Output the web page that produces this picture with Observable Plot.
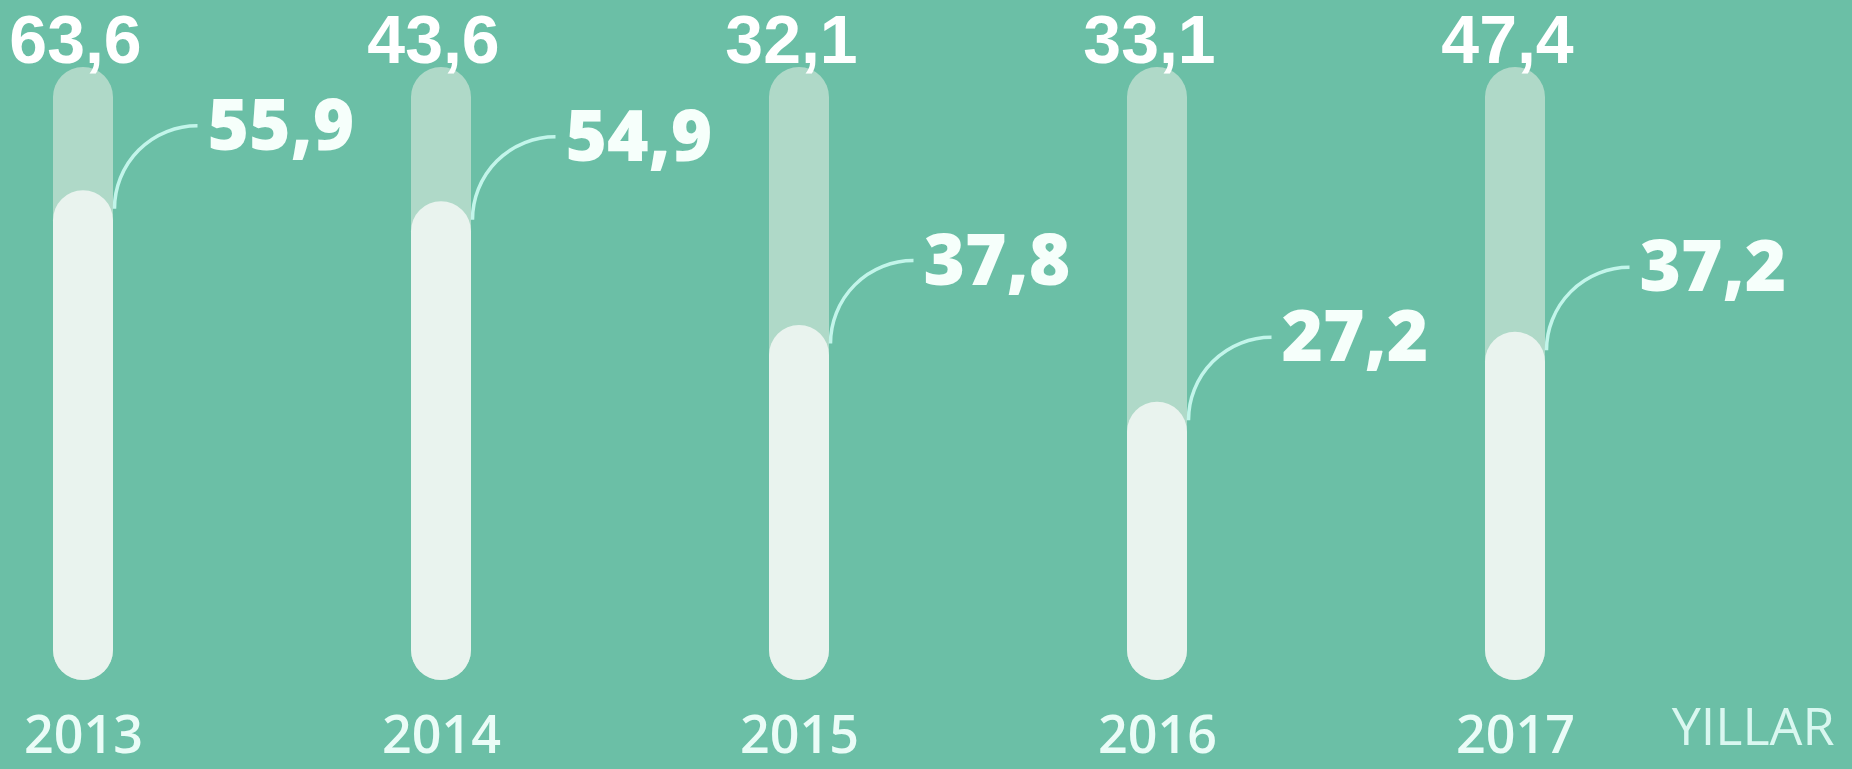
<!DOCTYPE html>
<html>
<head>
<meta charset="utf-8">
<script src="https://cdn.jsdelivr.net/npm/d3@7"></script>
<script src="https://cdn.jsdelivr.net/npm/@observablehq/plot@0.6"></script>
<style>
  html, body { margin: 0; padding: 0; background: #6bbfa6; overflow: hidden; }
  #chart svg { display: block; }
</style>
</head>
<body>
<div id="chart"></div>
<script>
// ---- data ----
const years = ["2013", "2014", "2015", "2016", "2017"];
const topLabels = ["63,6", "43,6", "32,1", "33,1", "47,4"];
const innerValues = [55.9, 54.9, 37.8, 27.2, 37.2];
const innerLabels = ["55,9", "54,9", "37,8", "27,2", "37,2"];
// fill level of each tube, in percent of the tube height, as drawn in the picture
const fillLevels = [79.9, 78.1, 57.9, 45.4, 56.8];
const tubeCapacity = [100, 100, 100, 100, 100];
const axisTitle = "YILLAR";

const rows = years.map((y, i) => ({
  year: y,
  top: topLabels[i],
  value: innerValues[i],
  label: innerLabels[i],
  fill: fillLevels[i],
  cap: tubeCapacity[i]
}));

// leader-line glyph: quarter arc from the tube's right edge up to the label
const leader = {
  draw(ctx) {
    ctx.moveTo(31, 18);
    ctx.arc(114, 18, 83, Math.PI, 1.5 * Math.PI);
  }
};

const chart = Plot.plot({
  width: 1852,
  height: 769,
  marginTop: 67,
  marginBottom: 89,
  marginLeft: 52,
  marginRight: 306,
  style: {
    background: "#6bbfa6",
    color: "#eafcf7",
    fontFamily: "'Open Sans', 'Noto Sans', sans-serif",
    fontSize: "52px",
    fontWeight: 600
  },
  x: {
    type: "band",
    domain: years,
    paddingInner: 0.8326,
    paddingOuter: 0,
    tickSize: 0,
    tickPadding: 36,
    label: null
  },
  y: { domain: [0, 100], axis: null },
  marks: [
    // outer tube
    Plot.barY(rows, { x: "year", y1: 0, y2: "cap", fill: "#afd9c8", rx: 30, ry: 30 }),
    // inner fill
    Plot.barY(rows, { x: "year", y1: 0, y2: "fill", fill: "#e9f3ee", rx: 30, ry: 30 }),
    // leader lines
    Plot.dot(rows, {
      x: "year", y: "fill", symbol: leader,
      fill: "none", stroke: "#c2f5ea", strokeWidth: 3.5
    }),
    // inner value labels
    Plot.text(rows, {
      x: "year", y: "fill", text: "label",
      textAnchor: "start", lineAnchor: "bottom",
      dx: 124, dy: -41,
      fontSize: 71, fontWeight: 800,
      fontFamily: "'Open Sans', 'Noto Sans', sans-serif",
      fill: "#f6fffb",
      style: "letter-spacing: -3px"
    }),
    // top labels
    Plot.text(rows, {
      x: "year", y: "cap", text: "top",
      textAnchor: "middle", lineAnchor: "bottom",
      dx: -8, dy: -5,
      fontSize: 68, fontWeight: 700,
      fontFamily: "'Liberation Sans', Arial, sans-serif",
      fill: "#ffffff",
      style: "letter-spacing: 5px"
    }),
    // axis title
    Plot.text([axisTitle], {
      text: d => d,
      frameAnchor: "bottom-right",
      textAnchor: "end", lineAnchor: "bottom",
      dx: 288, dy: 64,
      fontSize: 52, fontWeight: 400,
      fontFamily: "'Open Sans', 'Noto Sans', sans-serif",
      fill: "#d9f7f0"
    })
  ]
});

document.getElementById("chart").appendChild(chart);
</script>
</body>
</html>
